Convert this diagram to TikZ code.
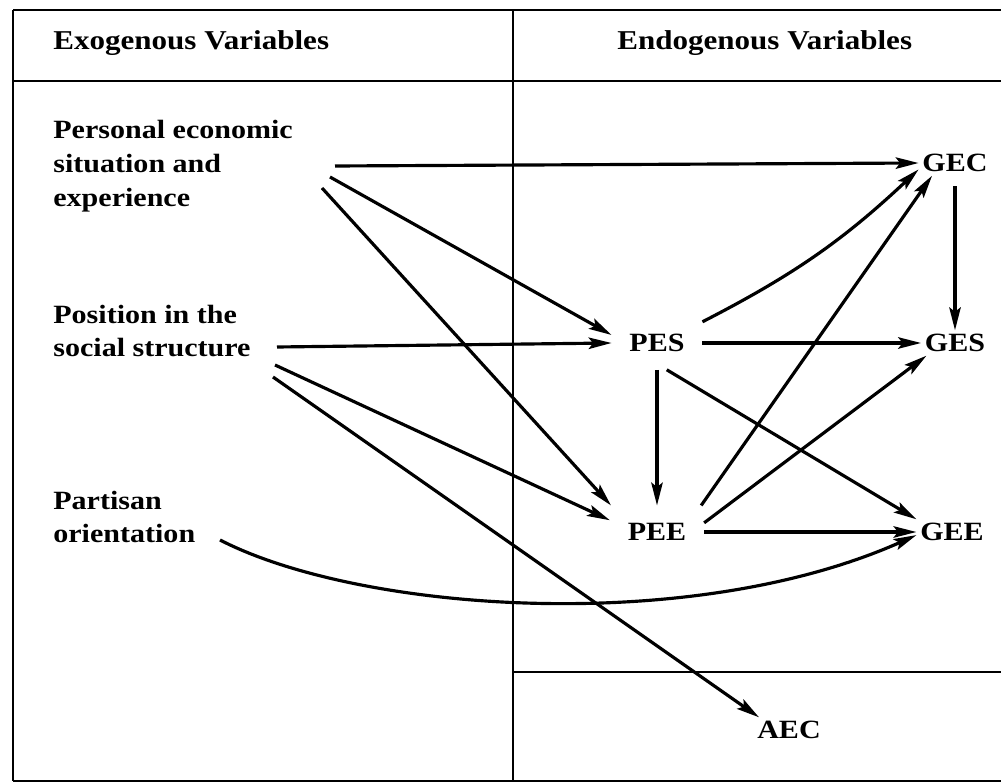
\documentclass[tikz,border=0pt]{standalone}
\usepackage{fontspec}
\setmainfont[FakeStretch=1.14]{Liberation Serif}
\usetikzlibrary{arrows.meta}

\begin{document}
\begin{tikzpicture}[
  x=0.02cm, y=-0.02cm,
  frame/.style={line width=1.4pt, black},
  heading/.style={anchor=west, inner sep=0pt, font=\fontsize{15.5}{19}\selectfont\bfseries},
  exolabel/.style={anchor=west, inner sep=0pt, align=left, font=\fontsize{15}{19.3}\selectfont\bfseries},
  endo/.style={inner sep=2pt, font=\fontsize{15}{18}\selectfont\bfseries},
  pvar/.style={endo, inner sep=10pt},
  link/.style={-{Stealth[length=13pt,width=6.5pt,inset=2.5pt]}, line width=1.8pt}
]
\useasboundingbox (0,0) rectangle (1001,783);

% Table frame
\draw[frame] (13,10) -- (1001,10);
\draw[frame] (13,81) -- (1001,81);
\draw[frame] (13,781) -- (1001,781);
\draw[frame] (13,10) -- (13,781);
\draw[frame] (513,10) -- (513,781);
\draw[frame] (513,672) -- (1001,672);

% Headings
\node[heading] (hexo) at (53,43) {Exogenous Variables};
\node[heading] (hendo) at (617,43) {Endogenous Variables};

% Exogenous variables
\node[exolabel] (pers) at (53,166) {Personal economic\\situation and\\experience};
\node[exolabel] (posi) at (53,331) {Position in the\\social structure};
\node[exolabel] (part) at (53,517) {Partisan\\orientation};

% Endogenous variables
\node[endo] (gec) at (955,163) {GEC};
\node[pvar] (pes) at (657,343) {PES};
\node[endo] (ges) at (955,343) {GES};
\node[pvar] (pee) at (657,532) {PEE};
\node[endo] (gee) at (952,532) {GEE};
\node[endo] (aec) at (789,730) {AEC};

% Start points of the arrows
\coordinate (pers1) at (335,166);
\coordinate (pers2) at (330,177);
\coordinate (pers3) at (322,188);
\coordinate (posi1) at (277,347);
\coordinate (posi2) at (275,365);
\coordinate (posi3) at (273,377);
\coordinate (part1) at (220,540);

% From the exogenous side
\draw[link] (pers1) -- (gec.west);
\draw[link] (pers2) -- (pes.170);
\draw[link] (pers3) -- (pee.150);
\draw[link] (posi1) -- (pes.west);
\draw[link] (posi2) -- (pee.166);
\draw[link] (posi3) -- (aec.157);
\draw[link] (part1) .. controls (360,612) and (690,636) .. (gee.185);

% Among the endogenous variables
\draw[link] (pes.east) -- (ges.west);
\draw[link] (pes.25) to[bend right=8] (gec.190);
\draw[link] (pes.south) -- (pee.north);
\draw[link] (pes.-70) -- (gee.north west);
\draw[link] (pee.31) -- (gec.209);
\draw[link] (pee.11) -- (ges.204);
\draw[link] (pee.east) -- (gee.west);
\draw[link, shorten <=6pt] (gec) -- (ges);

\end{tikzpicture}
\end{document}
